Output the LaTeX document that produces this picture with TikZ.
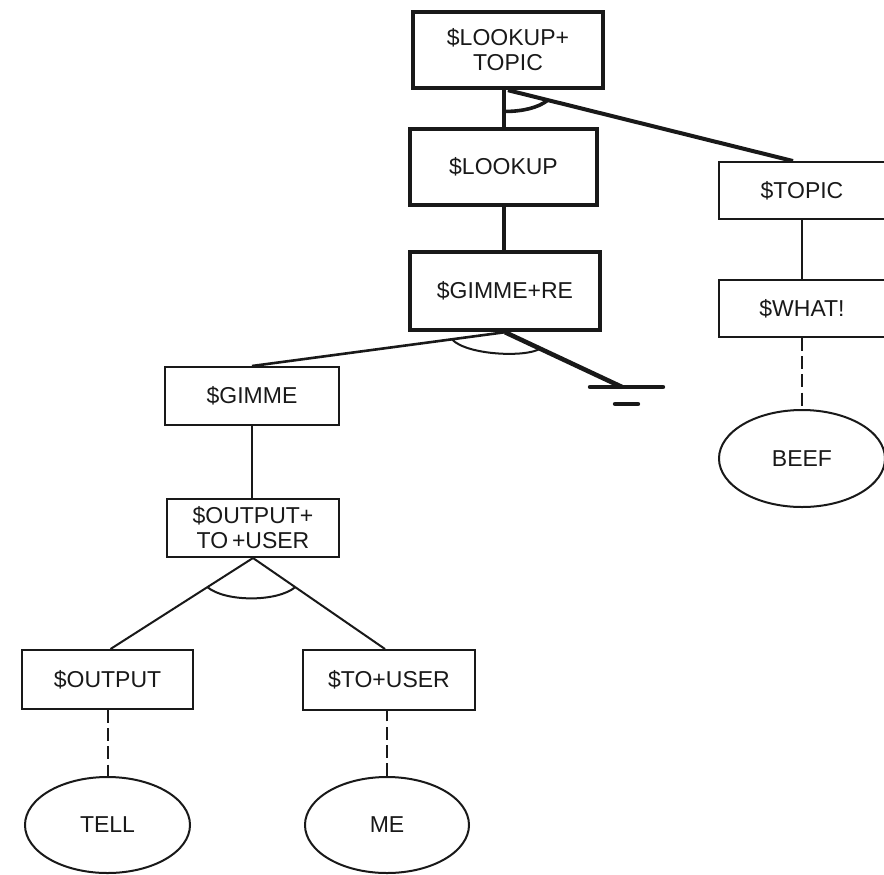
\documentclass[tikz,border=0pt]{standalone}
\usepackage{fontspec}
\setmainfont{Liberation Sans}
\usetikzlibrary{shapes.geometric,calc}
\begin{document}
\begin{tikzpicture}[x=0.5pt,y=-0.5pt,
  label/.style={font=\fontsize{11.5}{12.5}\selectfont, align=center, inner sep=0pt, text=black!90},
  heavybox/.style={label, rectangle, draw=black!90, line width=2.2pt},
  lightbox/.style={label, rectangle, draw=black!90, line width=1pt},
  leaf/.style={label, ellipse, draw=black!90, line width=1pt},
  heavyline/.style={draw=black!90, line width=2pt},
  midline/.style={draw=black!90, line width=1.3pt},
  lightline/.style={draw=black!90, line width=1pt},
  dashline/.style={draw=black!90, line width=1pt, dash pattern=on 6.5pt off 2.6pt},
  andarc/.style={draw=black!90, line width=1pt},
]
\useasboundingbox (0,0) rectangle (884,874);

% goal boxes
\node[heavybox, minimum width=95pt, minimum height=38pt] (top) at (508,50) {\$LOOKUP+\\TOPIC};
\node[heavybox, minimum width=93.5pt, minimum height=38pt] (lookup) at (503.5,167) {\$LOOKUP};
\node[heavybox, minimum width=95pt, minimum height=39pt] (gimmere) at (505,291) {\$GIMME+RE};
\node[lightbox, minimum width=83pt, minimum height=28.5pt] (topic) at (802,190.5) {\$TOPIC};
\node[lightbox, minimum width=83pt, minimum height=28.5pt] (what) at (802,308.5) {\$WHAT!};
\node[lightbox, minimum width=87pt, minimum height=29pt] (gimme) at (252,396) {\$GIMME};
\node[lightbox, minimum width=86pt, minimum height=29pt] (outto) at (253,528) {\$OUTPUT+\\TO\,+USER};
\node[lightbox, minimum width=85.5pt, minimum height=29.5pt] (output) at (107.5,679.5) {\$OUTPUT};
\node[lightbox, minimum width=86pt, minimum height=30pt] (touser) at (389,680) {\$TO+USER};

% terminal words
\node[leaf, minimum width=83pt, minimum height=48.5pt] (beef) at (802,458.5) {BEEF};
\node[leaf, minimum width=82.5pt, minimum height=48pt] (tell) at (107.5,825) {TELL};
\node[leaf, minimum width=82pt, minimum height=48pt] (me) at (387,825) {ME};

\coordinate (gnd) at (622,387);

% links
\draw[heavyline] (lookup.north) -- (lookup.north |- top.south);
\draw[heavyline] (top.south) -- ([xshift=-4.5pt]topic.north);
\draw[heavyline] (lookup.south) -- (lookup.south |- gimmere.north);
\draw[midline] (gimmere.south) -- (gimme.north);
\draw[draw=black!90, line width=2.3pt] (gimmere.south) -- (gnd);
\draw[lightline] (topic.south) -- (what.north);
\draw[dashline] (what.south) -- (beef.north);
\draw[lightline] (gimme.south) -- (gimme.south |- outto.north);
\draw[lightline] (outto.south) -- ([xshift=1.5pt]output.north);
\draw[lightline] (outto.south) -- ([xshift=-2pt]touser.north);
\draw[dashline] (output.south) -- (tell.north);
\draw[dashline] (me.north) -- (me.north |- touser.south);

% ground symbol
\draw[draw=black!90, line width=2.2pt, line cap=round] (590,387) -- (663,387);
\draw[draw=black!90, line width=2.2pt, line cap=round] (615,404) -- (638,404);

% AND arcs
\coordinate (a1) at ($(top.south)!0.58!(lookup.north)$);
\coordinate (a2) at ($(top.south)!0.14!([xshift=-4.5pt]topic.north)$);
\draw[draw=black!90, line width=1.8pt] (a1) .. controls ($(a1)+(16,0)$) and ($(a2)+(-10,8)$) .. (a2);

\coordinate (b1) at ($(gimmere.south)!0.21!(gimme.north)$);
\coordinate (b2) at ($(gimmere.south)!0.30!(gnd)$);
\draw[andarc] (b1) .. controls ($(b1)+(15,16)$) and ($(b2)+(-14,9)$) .. (b2);

\coordinate (c1) at ($(outto.south)!0.32!([xshift=1.5pt]output.north)$);
\coordinate (c2) at ($(outto.south)!0.32!([xshift=-2pt]touser.north)$);
\draw[andarc] (c1) .. controls ($(c1)+(18,15)$) and ($(c2)+(-18,15)$) .. (c2);
\end{tikzpicture}
\end{document}
